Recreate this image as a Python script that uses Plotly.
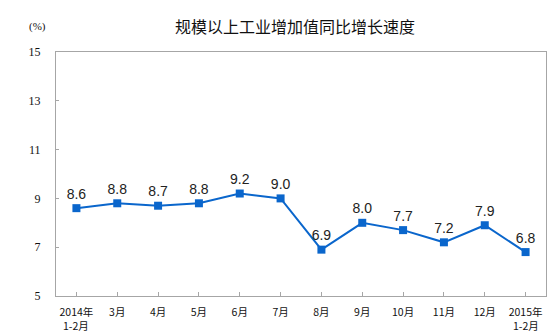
import plotly.graph_objects as go

categories = ["2014年", "3月", "4月", "5月", "6月", "7月", "8月", "9月",
              "10月", "11月", "12月", "2015年"]
category_second_line = ["1-2月", "", "", "", "", "", "", "", "", "", "", "1-2月"]
values = [8.6, 8.8, 8.7, 8.8, 9.2, 9.0, 6.9, 8.0, 7.7, 7.2, 7.9, 6.8]
y_ticks = [5, 7, 9, 11, 13, 15]
title_text = "规模以上工业增加值同比增长速度"
unit_text = "(%)"

cjk = "Noto Sans CJK SC"
grey = "#a6a6a6"
blue = "#0a66cc"

W, H = 551, 333
l, r, t, b = 56, 5, 52, 37

fig = go.Figure()
fig.add_trace(go.Scatter(
    x=list(range(len(categories))), y=values,
    mode="lines+markers+text",
    line=dict(color=blue, width=2),
    marker=dict(symbol="square", size=8, color=blue),
    text=[f"{v:.1f}" for v in values],
    textposition="top center",
    textfont=dict(family="Liberation Sans, Arial", size=14, color="#222222"),
    cliponaxis=False,
    hoverinfo="skip",
))

fig.update_layout(
    width=W, height=H,
    margin=dict(l=l, r=r, t=t, b=b, autoexpand=False),
    paper_bgcolor="white", plot_bgcolor="white",
    showlegend=False,
    xaxis=dict(
        range=[-0.5, len(categories) - 0.5],
        tickmode="array",
        tickvals=list(range(len(categories))),
        ticktext=categories,
        showgrid=False, zeroline=False,
        showline=True, linecolor=grey, linewidth=1, mirror=True,
        ticks="inside", ticklen=4, tickcolor=grey, tickson="boundaries",
        ticklabelstandoff=6,
        tickfont=dict(family=cjk, size=10.5, color="#111111"),
        automargin=False,
        fixedrange=True,
    ),
    yaxis=dict(
        range=[5, 15],
        tickvals=y_ticks,
        showgrid=False, zeroline=False,
        showline=True, linecolor=grey, linewidth=1, mirror=True,
        ticks="inside", ticklen=3, tickcolor=grey,
        ticklabelstandoff=12,
        tickfont=dict(family="Liberation Serif, Times New Roman", size=12, color="#111111"),
        automargin=False,
        fixedrange=True,
    ),
)

pw, ph = W - l - r, H - t - b
def px(xp):
    return (xp - l) / pw
def py(yp):
    return (H - b - yp) / ph

for i, s in enumerate(category_second_line):
    if s:
        fig.add_annotation(text=s, x=i, xref="x", y=py(325.5), yref="paper",
                           showarrow=False, xanchor="center", yanchor="middle",
                           borderpad=0,
                           font=dict(family=cjk, size=10.5, color="#111111"))

fig.add_annotation(text=title_text, x=px(295), y=py(26), xref="paper", yref="paper",
                   showarrow=False, xanchor="center", yanchor="middle",
                   font=dict(family=cjk, size=16, color="#111111"))
fig.add_annotation(text=unit_text, x=px(37), y=py(26), xref="paper", yref="paper",
                   showarrow=False, xanchor="center", yanchor="middle",
                   font=dict(family="Liberation Serif, Times New Roman", size=11, color="#111111"))

fig.write_html("out.html")
